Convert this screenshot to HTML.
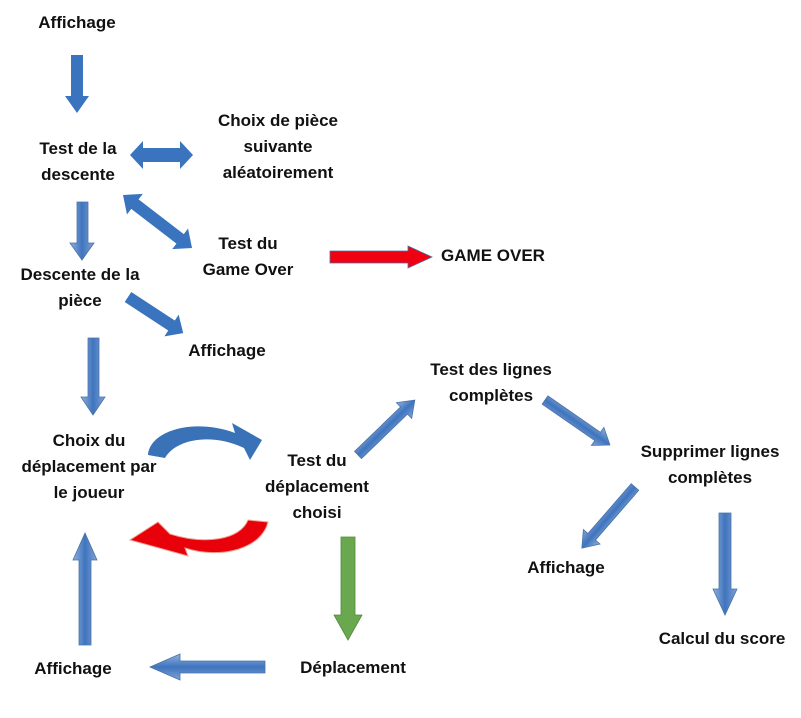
<!DOCTYPE html>
<html><head><meta charset="utf-8"><style>
body{margin:0;background:#fff;width:801px;height:718px;overflow:hidden}
svg{position:absolute;left:0;top:0}
.t{position:absolute;font-family:"Liberation Sans",sans-serif;font-weight:bold;font-size:17px;line-height:26px;text-align:center;color:#111;white-space:nowrap;transform:translateX(-50%)}
</style></head><body>
<svg width="801" height="718">
<defs>
<linearGradient id="bv" x1="0" x2="1" y1="0" y2="0"><stop offset="0" stop-color="#8fb1dd"/><stop offset=".5" stop-color="#3f74bd"/><stop offset="1" stop-color="#7fa3d6"/></linearGradient>
<linearGradient id="bh" x1="0" x2="0" y1="0" y2="1"><stop offset="0" stop-color="#8fb1dd"/><stop offset=".5" stop-color="#3f74bd"/><stop offset="1" stop-color="#7fa3d6"/></linearGradient>
</defs>
<g fill="#3a74bf">
<polygon points="71,55 83,55 83,96 89,96 77,113 65,96 71,96"/>
<polygon points="130,155 143,141 143,148 180,148 180,141 193,155 180,169 180,162 143,162 143,169"/>
<g transform="translate(123,195) rotate(37.5)"><polygon points="0,0 15,-13 15,-6 72,-6 72,-13 87,0 72,13 72,6 15,6 15,13"/></g>
<g transform="translate(128,297) rotate(33.2)"><polygon points="0,-6 52,-6 52,-13 66,0 52,13 52,6 0,6"/></g>
</g>
<g fill="url(#bv)" stroke="#4a72a8" stroke-width="0.8">
<polygon points="77,202 88,202 88,243 94,243 82,260 70,243 77,243"/>
<polygon points="88,338 99,338 99,397 105,397 93,415 81,397 88,397"/>
<polygon points="719,513 731,513 731,589 737,589 725,615 713,589 719,589"/>
<polygon points="79,645 91,645 91,560 97,560 85,533 73,560 79,560"/>
</g>
<polygon points="265,661 265,673 180,673 180,680 150,667 180,654 180,661" fill="url(#bh)" stroke="#4a72a8" stroke-width="0.8"/>
<polygon points="341,537 355,537 355,615 362,615 348,640 334,615 341,615" fill="#6aa84f" stroke="#4f8a3a" stroke-width="0.8"/>
<polygon points="330,251 408,251 408,246 432,257 408,268 408,263 330,263" fill="#f00010" stroke="#4a72a8" stroke-width="0.8"/>
<g fill="url(#bh)" stroke="#4a72a8" stroke-width="0.8">
<g transform="translate(358,455) rotate(-44)"><polygon points="0,-5 64,-5 64,-11 79,0 64,11 64,5 0,5"/></g>
<g transform="translate(545,400) rotate(34.7)"><polygon points="0,-5 64,-5 64,-11 79,0 64,11 64,5 0,5"/></g>
<g transform="translate(635,487) rotate(131)"><polygon points="0,-5 66,-5 66,-11 81,0 66,11 66,5 0,5"/></g>
</g>
<path d="M148,455 C150,430 195,418 235,433 L232,423 L262,440 L250,460 L244,448 C210,432 175,440 165,458 Z" fill="#3a72b8"/>
<path d="M268,522 C262,548 222,560 185,548 L188,556 L130,540 L158,522 L170,534 C205,545 240,540 248,520 Z" fill="#e8000a" stroke="#f2a090" stroke-width="1"/>
</svg>
<div class="t" style="left:77px;top:10px">Affichage</div>
<div class="t" style="left:78px;top:136px">Test de la<br>descente</div>
<div class="t" style="left:278px;top:108px">Choix de pièce<br>suivante<br>aléatoirement</div>
<div class="t" style="left:248px;top:231px">Test du<br>Game Over</div>
<div class="t" style="left:493px;top:243px">GAME OVER</div>
<div class="t" style="left:80px;top:262px">Descente de la<br>pièce</div>
<div class="t" style="left:227px;top:338px">Affichage</div>
<div class="t" style="left:89px;top:428px">Choix du<br>déplacement par<br>le joueur</div>
<div class="t" style="left:317px;top:448px">Test du<br>déplacement<br>choisi</div>
<div class="t" style="left:491px;top:357px">Test des lignes<br>complètes</div>
<div class="t" style="left:710px;top:439px">Supprimer lignes<br>complètes</div>
<div class="t" style="left:566px;top:555px">Affichage</div>
<div class="t" style="left:722px;top:626px">Calcul du score</div>
<div class="t" style="left:73px;top:656px">Affichage</div>
<div class="t" style="left:353px;top:655px">Déplacement</div>
</body></html>
